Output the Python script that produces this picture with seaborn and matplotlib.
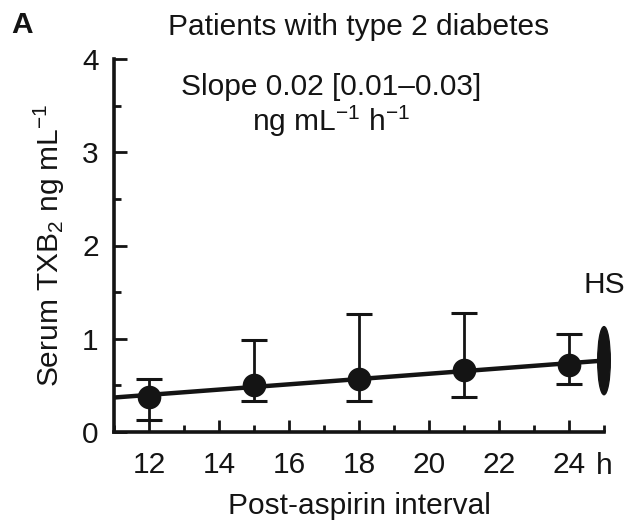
import numpy as np
import pandas as pd
import matplotlib
matplotlib.use("Agg")
import matplotlib.pyplot as plt
from matplotlib.patches import Ellipse
from matplotlib.ticker import MultipleLocator
import seaborn as sns

# Serum TXB2 after aspirin dosing (means with error ranges)
hours = [12, 15, 18, 21, 24]
txb2_mean = [0.38, 0.50, 0.57, 0.67, 0.72]
txb2_upper = [0.57, 0.99, 1.27, 1.28, 1.05]
txb2_lower = [0.13, 0.33, 0.33, 0.38, 0.52]

# Healthy subjects reference (HS)
hs_hour = 25
hs_low = 0.40
hs_high = 1.13

x_tick_values = [12, 14, 16, 18, 20, 22, 24]
y_tick_values = [0, 1, 2, 3, 4]

df = pd.DataFrame({"hour": hours, "txb2": txb2_mean,
                   "upper": txb2_upper, "lower": txb2_lower})

sns.set_style("ticks")
plt.rcParams["font.family"] = ["Liberation Sans", "DejaVu Sans"]
plt.rcParams["mathtext.fontset"] = "custom"
plt.rcParams["mathtext.rm"] = "Liberation Sans"
plt.rcParams["mathtext.it"] = "Liberation Sans:italic"
plt.rcParams["mathtext.bf"] = "Liberation Sans:bold"

FS = 21.5
ink = "#141414"

fig = plt.figure(figsize=(6.38, 5.21), dpi=100)
ax = fig.add_axes([114 / 638, 1 - 432 / 521, 490 / 638, 373 / 521])
ax.set_xlim(11, 25)
ax.set_ylim(0, 4)

# error bars
ax.errorbar(df["hour"], df["txb2"],
            yerr=[df["txb2"] - df["lower"], df["upper"] - df["txb2"]],
            fmt="none", ecolor=ink, elinewidth=2.0, capsize=9.5,
            capthick=2.2, zorder=3)

# regression line across the full interval plus mean markers
sns.regplot(data=df, x="hour", y="txb2", ax=ax, ci=None, truncate=False,
            color=ink, marker="o",
            scatter_kws={"s": 290, "zorder": 4, "alpha": 1,
                         "edgecolor": ink, "linewidths": 0},
            line_kws={"lw": 3.2, "zorder": 2})

# HS marker
hs = Ellipse((hs_hour, (hs_low + hs_high) / 2), width=0.36,
             height=hs_high - hs_low, facecolor=ink, edgecolor=ink,
             clip_on=False, zorder=5)
ax.add_patch(hs)
ax.text(hs_hour, 1.58, "HS", ha="center", va="center", fontsize=FS, color=ink)

sns.despine(ax=ax)
for side in ("left", "bottom"):
    ax.spines[side].set_linewidth(2.6)
    ax.spines[side].set_color(ink)

ax.set_xticks(x_tick_values)
ax.set_xticklabels([str(v) for v in x_tick_values])
ax.xaxis.set_minor_locator(MultipleLocator(1))
ax.set_yticks(y_tick_values)
ax.set_yticklabels([str(v) for v in y_tick_values])
ax.yaxis.set_minor_locator(MultipleLocator(0.5))
ax.tick_params(axis="both", which="major", direction="in", length=9,
               width=2.0, color=ink, labelsize=FS, labelcolor=ink)
ax.tick_params(axis="both", which="minor", direction="in", length=5,
               width=2.0, color=ink)
ax.tick_params(axis="x", which="major", pad=14)
ax.tick_params(axis="y", which="major", pad=11)

# unit label at the end of the time axis
ax.text(hs_hour, -0.215, "h", ha="center", va="top", fontsize=FS, color=ink,
        transform=ax.transData)

ax.set_xlabel("Post-aspirin interval", fontsize=FS, color=ink, labelpad=9)
ax.set_ylabel("Serum TXB$_2$ ng mL$^{-1}$", fontsize=FS, color=ink, labelpad=11)
ax.set_title("Patients with type 2 diabetes", fontsize=FS, color=ink, pad=17)

ax.text(17.2, 3.70, "Slope 0.02 [0.01\u20130.03]", ha="center", va="center",
        fontsize=FS, color=ink)
ax.text(17.2, 3.33, "ng mL$^{-1}$ h$^{-1}$", ha="center", va="center",
        fontsize=FS, color=ink)

fig.text(22 / 638, 1 - 25 / 521, "A", fontsize=FS, fontweight="bold",
         ha="center", va="center", color=ink)

fig.savefig("out.png", dpi=100)
